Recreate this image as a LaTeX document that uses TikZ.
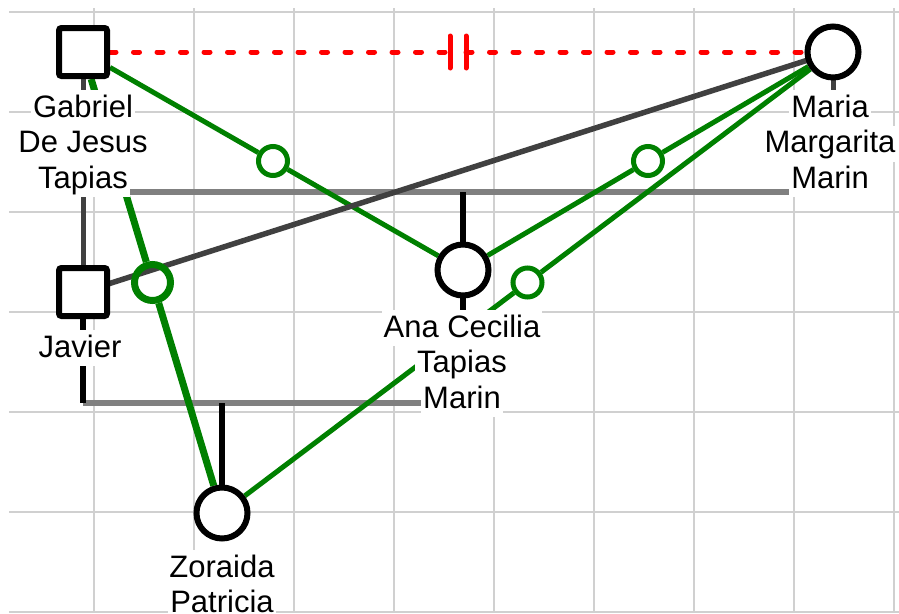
\documentclass[tikz,border=0pt]{standalone}
\usepackage{fontspec}
\setmainfont{Liberation Sans}
\usetikzlibrary{calc}

\definecolor{gridgray}{HTML}{D0D0D0}
\definecolor{famgray}{HTML}{808080}
\definecolor{linkdark}{HTML}{404040}
\definecolor{bondgreen}{HTML}{008000}
\definecolor{cutred}{HTML}{FF0000}

\pgfdeclarelayer{grid}
\pgfdeclarelayer{links}
\pgfsetlayers{grid,links,main}

\begin{document}
\begin{tikzpicture}[x=1pt,y=-1pt,
  male/.style={rectangle, draw=black, line width=6pt, fill=white,
    rounded corners=2.5pt, minimum size=48pt, inner sep=0pt},
  female/.style={circle, draw=black, line width=6pt, fill=white,
    minimum size=51pt, inner sep=0pt},
  bondthin/.style={circle, draw=bondgreen, line width=5pt,
    minimum size=29pt, inner sep=0pt},
  bondthick/.style={circle, draw=bondgreen, line width=7pt,
    minimum size=36pt, inner sep=0pt},
  lbl/.style={fill=white, text=black, font=\fontsize{31}{35.5}\selectfont,
    inner xsep=2pt, inner ysep=0pt, text height=27pt, text depth=9pt,
    anchor=base},
  gridline/.style={draw=gridgray, line width=2pt},
  famline/.style={draw=famgray, line width=5.5pt},
  parentline/.style={draw=linkdark, line width=5pt},
  childline/.style={draw=black, line width=5.5pt},
  bondline/.style={draw=bondgreen, line width=5pt},
  bondheavy/.style={draw=bondgreen, line width=7pt},
  linkline/.style={draw=linkdark, line width=5.5pt},
  cutline/.style={draw=cutred, line width=5pt, line cap=round,
    dash pattern=on 6pt off 17.5pt},
  cutbar/.style={draw=cutred, line width=5pt, line cap=round}]

\useasboundingbox (0,0) rectangle (899,613);

% people
\node[male]   (g) at (83,52)   {};
\node[female] (m) at (833,52)  {};
\node[male]   (j) at (83,292)  {};
\node[female] (a) at (463,270) {};
\node[female] (z) at (222,513) {};

% relationship markers halfway along each bond
\node[bondthin]  (ga) at ($(g.center)!0.5!(a.center)$) {};
\node[bondthin]  (ma) at ($(m.center)!0.5!(a.center)$) {};
\node[bondthin]  (mz) at ($(m.center)!0.5!(z.center)$) {};
\node[bondthick] (gz) at ($(g.center)!0.5!(z.center)$) {};

% family line anchors
\coordinate (f1l) at (g.center |- 0,192);
\coordinate (f1r) at (m.center |- 0,192);
\coordinate (f1a) at (a.center |- 0,192);
\coordinate (f2l) at (j.center |- 0,403);
\coordinate (f2r) at (a.center |- 0,403);
\coordinate (f2z) at (z.center |- 0,403);
\coordinate (gm)  at ($(g.center)!0.5!(m.center)$);

% background grid
\begin{pgfonlayer}{grid}
  \foreach \x in {94,194,...,894}
    \draw[gridline] (\x,8) -- (\x,613);
  \foreach \y in {12,112,...,612}
    \draw[gridline] (9,\y) -- (899,\y);
\end{pgfonlayer}

\begin{pgfonlayer}{links}
  % first family
  \draw[famline] (f1l) -- (f1r);
  \draw[parentline] (g.center) -- (j.center);
  \draw[parentline] (m.center) -- (f1r);
  \draw[childline] (f1a) -- (a.center);
  % second family
  \draw[famline] (f2l) -- (f2r);
  \draw[childline] (j.center) -- (f2l);
  \draw[childline] (a.center) -- (f2r);
  \draw[childline] (f2z) -- (z.center);
  % separated couple
  \draw[cutline] (g) -- ($(gm)+(-8,0)$);
  \draw[cutline] ($(gm)+(8,0)$) -- (m);
  \draw[cutbar] ($(gm)+(-8,-16)$) -- ($(gm)+(-8,16)$);
  \draw[cutbar] ($(gm)+(8,-16)$) -- ($(gm)+(8,16)$);
  % emotional bonds
  \draw[bondline] (g) -- (ga);
  \draw[bondline] (ga) -- (a);
  \draw[bondline] (m) -- (ma);
  \draw[bondline] (ma) -- (a);
  \draw[bondline] (m) -- (mz);
  \draw[bondline] (mz) -- (z);
  \draw[bondheavy] (g) -- (gz);
  \draw[bondheavy] (gz) -- (z);
  % mother to son
  \draw[linkline] (m.center) -- (j.center);
\end{pgfonlayer}

% names
\node[lbl] (g1) at (83,117)   {Gabriel};
\node[lbl] (g2) at (83,152.5) {De Jesus};
\node[lbl] (g3) at (83,188)   {Tapias};
\node[lbl] (m1) at (830,117)   {Maria};
\node[lbl] (m2) at (830,152.5) {Margarita};
\node[lbl] (m3) at (830,188)   {Marin};
\node[lbl] (a1) at (462,337)   {Ana Cecilia};
\node[lbl] (a2) at (462,372.5) {Tapias};
\node[lbl] (a3) at (462,408)   {Marin};
\node[lbl] (j1) at (80,357)    {Javier};
\node[lbl] (z1) at (222,577)   {Zoraida};
\node[lbl] (z2) at (222,612.5) {Patricia};

\end{tikzpicture}
\end{document}
